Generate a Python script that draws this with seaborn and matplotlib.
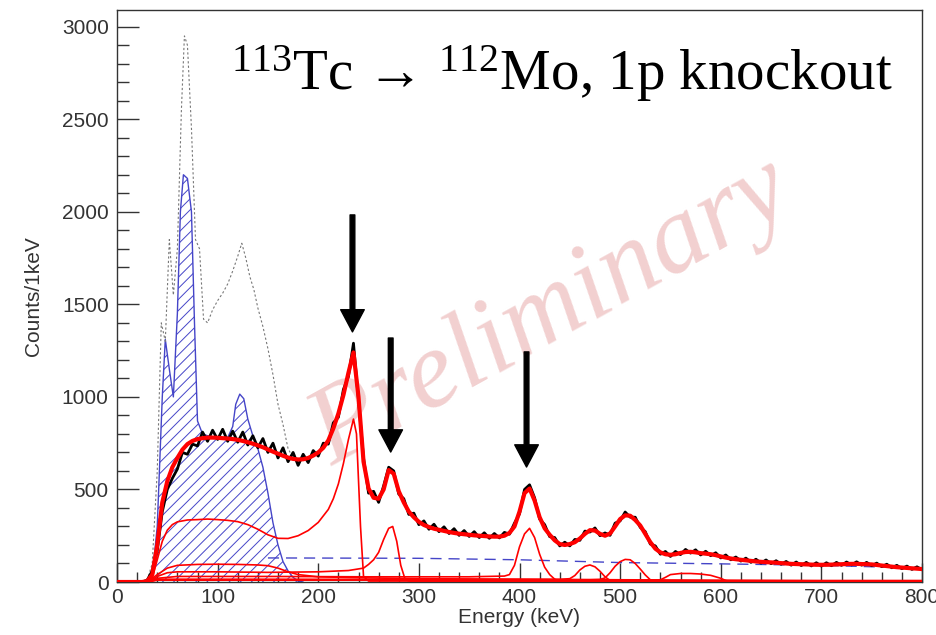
import numpy as np
import matplotlib
matplotlib.use("Agg")
import matplotlib.pyplot as plt
from matplotlib.ticker import MultipleLocator
import seaborn as sns

# energy grid of the spectrum (keV), 5 keV steps
energy = np.arange(0, 805, 5)

# measured spectrum (counts / 1 keV)
data_counts = [
    0, 0, 0, 0, 0, 0, 10, 60, 170, 380,
    500, 560, 610, 700, 690, 745, 735, 810, 760, 820,
    770, 825, 760, 815, 755, 810, 740, 790, 725, 775,
    700, 750, 670, 725, 650, 700, 630, 690, 645, 710,
    680, 750, 745, 860, 890, 1040, 1110, 1290, 980, 670,
    480, 490, 430, 520, 620, 600, 475, 450, 365, 372,
    310, 330, 285, 312, 272, 298, 262, 288, 252, 278,
    246, 272, 240, 266, 236, 262, 238, 268, 258, 318,
    368, 500, 525, 455, 340, 310, 245, 240, 195, 215,
    195, 230, 225, 275, 270, 292, 250, 265, 252, 318,
    330, 378, 350, 350, 295, 272, 205, 195, 150, 165,
    138, 165, 148, 176, 156, 174, 146, 166, 142, 158,
    130, 146, 120, 135, 113, 129, 106, 123, 102, 119,
    99, 115, 96, 111, 91, 108, 89, 106, 87, 104,
    86, 104, 88, 106, 90, 108, 92, 109, 91, 106,
    88, 102, 83, 96, 77, 90, 72, 86, 68, 82,
    66,
]

# total fit
fit_counts = [
    0, 0, 0, 0, 0, 0, 5, 40, 200, 430,
    545, 620, 670, 715, 745, 762, 772, 777, 780, 780,
    779, 777, 775, 772, 768, 762, 755, 747, 738, 728,
    716, 704, 693, 682, 672, 665, 662, 663, 670, 683,
    700, 725, 765, 830, 910, 1010, 1130, 1240, 1000, 650,
    505, 455, 450, 500, 605, 585, 490, 430, 380, 350,
    325, 308, 297, 288, 282, 276, 270, 265, 261, 258,
    255, 252, 250, 248, 246, 245, 245, 250, 265, 300,
    380, 480, 505, 440, 350, 290, 255, 225, 205, 200,
    205, 215, 235, 260, 280, 278, 260, 250, 262, 300,
    340, 360, 358, 335, 305, 260, 215, 180, 160, 150,
    147, 150, 157, 162, 163, 160, 156, 153, 150, 145,
    138, 132, 127, 123, 120, 117, 114, 111, 109, 107,
    106, 104, 102, 100, 98, 97, 96, 95, 94, 93,
    93, 93, 94, 95, 96, 97, 98, 98, 97, 96,
    95, 92, 89, 86, 83, 80, 78, 76, 74, 72,
    70,
]

# spectrum before the cut (grey dashed)
raw_energy = [30, 35, 40, 44, 48, 52, 56, 60, 64, 67, 70, 74, 78, 82, 86, 90, 95,
              100, 105, 110, 115, 120, 124, 128, 132, 136, 140, 145, 150, 155,
              160, 165, 170, 175]
raw_counts = [10, 100, 600, 1400, 1300, 1850, 1550, 1800, 2550, 2950, 2900, 2450,
              1850, 1800, 1420, 1400, 1470, 1520, 1560, 1610, 1680, 1760, 1830,
              1750, 1650, 1580, 1480, 1380, 1260, 1120, 960, 850, 720, 672]

# removed contribution (blue hatched)
cut_energy = [30, 35, 40, 45, 48, 52, 56, 60, 63, 66, 70, 74, 77, 80, 85, 90, 100,
              110, 115, 118, 122, 126, 130, 135, 140, 145, 150, 155, 160, 165,
              170, 175, 180, 185]
cut_counts = [0, 30, 300, 1000, 1310, 1150, 1000, 1450, 2000, 2200, 2180, 2000,
              1400, 870, 800, 790, 775, 780, 840, 960, 1015, 990, 880, 790, 720,
              620, 480, 320, 200, 110, 60, 25, 5, 0]

# smooth background (blue dashed)
bg_energy = [150, 300, 400, 500, 600, 700, 800]
bg_counts = [130, 128, 120, 105, 98, 90, 75]

# simulated response components (thin red)
r235_energy = [30, 35, 40, 45, 50, 55, 60, 70, 80, 90, 100, 110, 120, 130, 140,
               150, 160, 170, 180, 190, 200, 210, 215, 220, 225, 230, 235, 238,
               242, 245, 250, 800]
r235_counts = [0, 20, 120, 220, 280, 310, 325, 335, 337, 340, 337, 333, 326, 310,
               285, 255, 236, 235, 250, 278, 322, 392, 450, 530, 640, 770, 880,
               800, 300, 30, 5, 5]

r273_energy = [30, 40, 50, 60, 100, 150, 200, 230, 245, 250, 255, 260, 265, 270,
               274, 278, 282, 286, 290, 800]
r273_counts = [0, 30, 50, 55, 55, 52, 55, 62, 75, 95, 120, 160, 230, 290, 300,
               220, 90, 20, 5, 5]

r410_energy = [30, 40, 60, 150, 250, 350, 385, 390, 395, 400, 405, 410, 415, 420,
               425, 430, 435, 440, 800]
r410_counts = [0, 20, 30, 30, 28, 28, 32, 40, 90, 190, 260, 290, 240, 150, 80, 40,
               15, 5, 3]

r470_energy = [30, 40, 100, 300, 440, 450, 455, 460, 465, 470, 475, 480, 485, 490,
               495, 800]
r470_counts = [0, 15, 15, 14, 14, 18, 35, 65, 85, 92, 82, 58, 28, 8, 3, 3]

r510_energy = [30, 40, 100, 300, 470, 480, 485, 490, 495, 500, 505, 510, 515, 520,
               525, 530, 535, 540, 800]
r510_counts = [0, 12, 12, 12, 12, 14, 22, 50, 85, 110, 122, 120, 100, 70, 38, 12,
               4, 2, 2]

r570_energy = [30, 40, 100, 400, 530, 540, 545, 550, 560, 570, 580, 590, 600, 605,
               610, 800]
r570_counts = [0, 10, 10, 10, 10, 12, 25, 40, 46, 46, 43, 36, 20, 8, 3, 3]

low_energy = [30, 40, 50, 60, 80, 100, 120, 140, 150, 160, 170, 180, 200, 250,
              300, 400, 500, 600, 700, 800]
low_counts = [0, 40, 75, 90, 95, 96, 95, 92, 88, 75, 55, 40, 28, 22, 18, 15, 12,
              10, 8, 8]

# arrows marking the 112Mo transitions
arrow_energy = [234, 272, 407]
arrow_top = [1983, 1318, 1243]
arrow_tip = [1351, 702, 621]

sns.set_theme(style="white")
plt.rcParams["font.family"] = ["Liberation Sans", "DejaVu Sans"]
plt.rcParams["mathtext.fontset"] = "custom"
plt.rcParams["mathtext.rm"] = "Liberation Serif"
plt.rcParams["mathtext.it"] = "Liberation Serif:italic"
plt.rcParams["mathtext.default"] = "rm"
plt.rcParams["hatch.linewidth"] = 0.7

fig = plt.figure(figsize=(9.36, 6.35), dpi=100)
ax = fig.add_axes([117 / 936, 1 - 582 / 635, 805 / 936, 572 / 635])

blue = "#4545c8"
red = "#ff0000"

# watermark
ax.text(0.54, 0.47, "Preliminary", transform=ax.transAxes, fontsize=80,
        family=["Liberation Serif"], style="italic", color="#f2d0d0",
        rotation=29, ha="center", va="center", zorder=0)

# hatched contribution
ax.fill_between(cut_energy, 0, cut_counts, facecolor="none", edgecolor=blue,
                hatch="///", linewidth=0, zorder=1)
sns.lineplot(x=cut_energy, y=cut_counts, ax=ax, color=blue, lw=1.0,
             estimator=None, sort=False, zorder=2)
sns.lineplot(x=bg_energy, y=bg_counts, ax=ax, color=blue, lw=1.0,
             linestyle=(0, (8, 5)), estimator=None, sort=False, zorder=2)

# raw spectrum
sns.lineplot(x=raw_energy, y=raw_counts, ax=ax, color="#777777", lw=0.8,
             linestyle=(0, (2, 2)), estimator=None, sort=False, zorder=2)

# response components
components = [
    (r235_energy, r235_counts),
    (r273_energy, r273_counts),
    (r410_energy, r410_counts),
    (r470_energy, r470_counts),
    (r510_energy, r510_counts),
    (r570_energy, r570_counts),
    (low_energy, low_counts),
]
for e, c in components:
    sns.lineplot(x=e, y=c, ax=ax, color=red, lw=1.2, estimator=None,
                 sort=False, zorder=3)

# data and total fit
sns.lineplot(x=energy, y=data_counts, ax=ax, color="black", lw=2.0,
             estimator=None, sort=False, zorder=4)
sns.lineplot(x=energy, y=fit_counts, ax=ax, color=red, lw=3.0,
             estimator=None, sort=False, zorder=5)

for x, top, tip in zip(arrow_energy, arrow_top, arrow_tip):
    ax.annotate("", xy=(x, tip), xytext=(x, top),
                arrowprops=dict(facecolor="black", edgecolor="black",
                                width=3.4, headwidth=17, headlength=16,
                                shrink=0),
                zorder=6)

ax.text(0.1416, 0.86, r"$^{113}$Tc → $^{112}$Mo, 1p knockout",
        transform=ax.transAxes, fontsize=41,
        family=["Liberation Serif", "DejaVu Serif"], color="black",
        ha="left", va="baseline", zorder=7)

ax.set_xlim(0, 800)
ax.set_ylim(0, 3090)
ax.xaxis.set_major_locator(MultipleLocator(100))
ax.xaxis.set_minor_locator(MultipleLocator(20))
ax.yaxis.set_major_locator(MultipleLocator(500))
ax.yaxis.set_minor_locator(MultipleLocator(100))

ax.tick_params(axis="both", which="both", direction="in", top=False,
               right=False, left=True, bottom=True, colors="#333333",
               labelsize=15, width=1)
ax.tick_params(axis="x", which="major", length=14, pad=4)
ax.tick_params(axis="x", which="minor", length=7)
ax.tick_params(axis="y", which="major", length=16, pad=6)
ax.tick_params(axis="y", which="minor", length=8.5)

for s in ax.spines.values():
    s.set_color("#333333")
    s.set_linewidth(1.0)

ax.set_xlabel("Energy (keV)", fontsize=15, color="#333333")
ax.set_ylabel("Counts/1keV", fontsize=15, color="#333333")
ax.xaxis.set_label_coords(0.5, -0.045)
ax.yaxis.set_label_coords(-0.092, 0.5)

fig.savefig("out.png", dpi=100)
